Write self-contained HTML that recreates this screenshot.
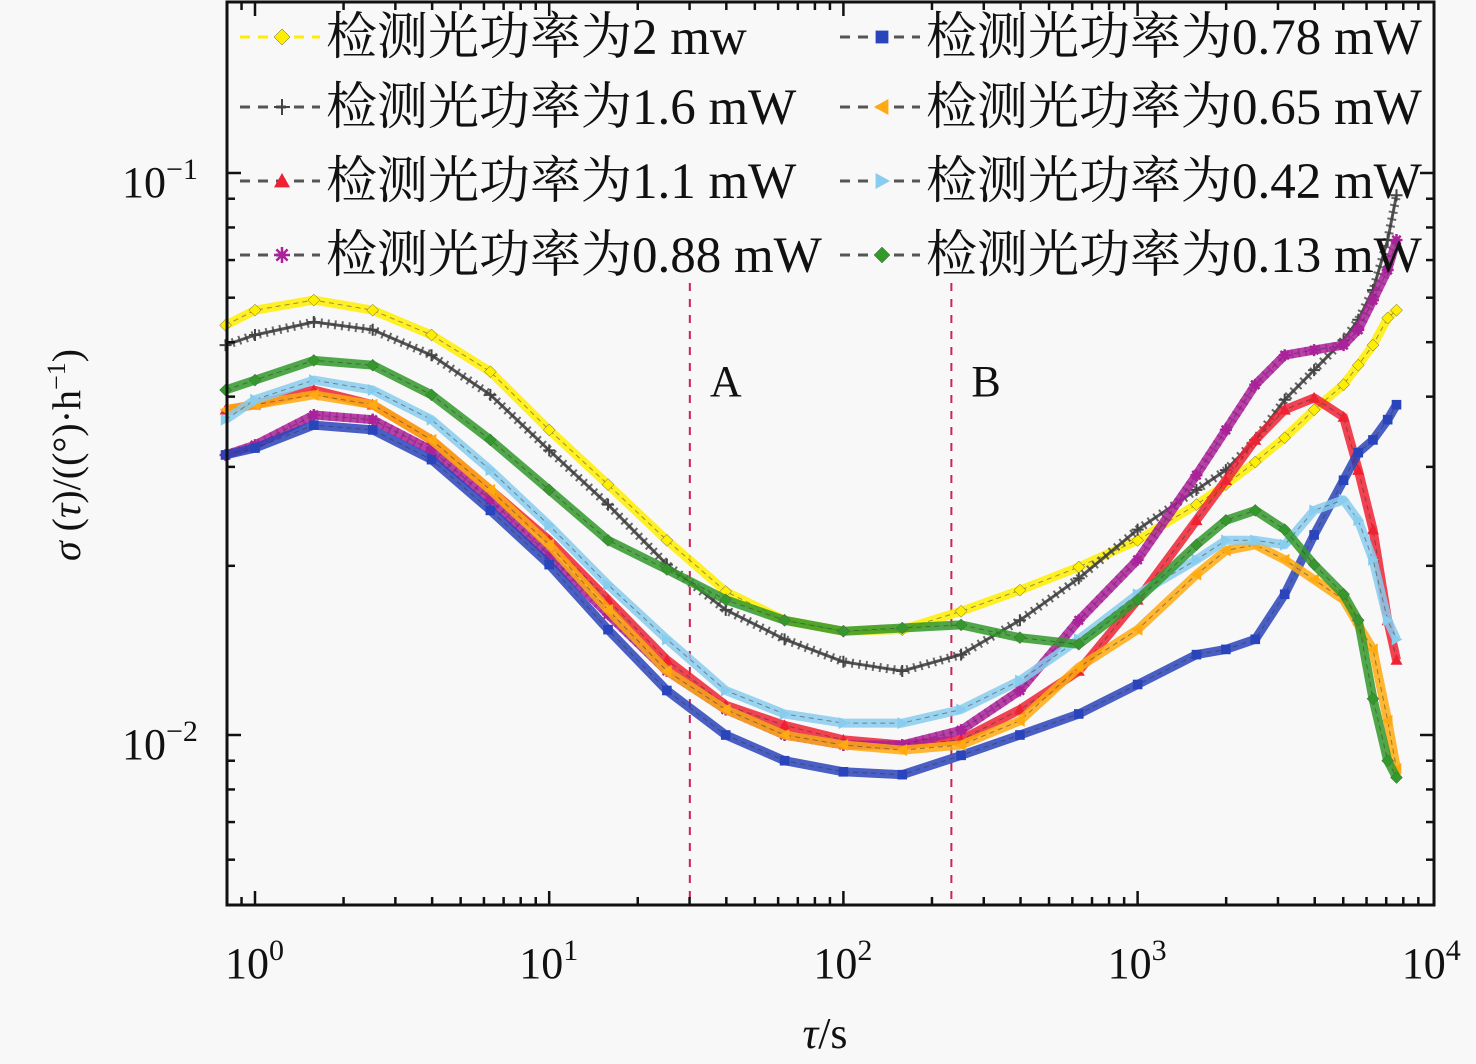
<!DOCTYPE html>
<html><head><meta charset="utf-8">
<style>
html,body{margin:0;padding:0;background:#f8f8f8;}
svg{display:block;}
text{font-family:"Liberation Serif","Noto Serif CJK SC",serif;fill:#111;}
</style></head>
<body>
<svg id="chart" width="1476" height="1064" viewBox="0 0 1476 1064" xmlns="http://www.w3.org/2000/svg">
<rect x="0" y="0" width="1476" height="1064" fill="#f8f8f8"/>
<g id="grid-lines"></g>
<g id="series-layer"></g>
<g id="axes-layer"></g>
<g id="legend-layer"></g>
</svg>
<script>
const tauLog = [-0.1,0.0,0.2,0.4,0.6,0.8,1.0,1.2,1.4,1.6,1.8,2.0,2.2,2.4,2.6,2.8,3.0,3.2,3.3,3.4,3.5,3.6,3.7,3.75,3.8,3.85,3.88];
const s2mW   = [.0536,.0570,.0594,.0570,.0515,.0443,.0349,.0279,.0222,.0180,.0160,.0153,.0154,.0166,.0181,.0199,.0222,.0257,.0279,.0306,.0338,.0379,.0420,.0455,.0494,.0552,.0570];
const s1_6mW = [.0494,.0515,.0543,.0526,.0474,.0403,.0321,.0257,.0201,.0167,.0148,.0135,.0130,.0139,.0160,.0190,.0232,.0273,.0296,.0335,.0395,.0446,.0504,.0548,.0619,.0760,.0913];
const s1_1mW = [.0379,.0387,.0411,.0387,.0335,.0273,.0222,.0174,.0136,.0113,.0104,.0098,.0096,.0098,.0111,.0130,.0174,.0241,.0284,.0335,.0379,.0398,.0368,.0296,.0232,.0160,.0136];
const s0_88mW= [.0315,.0328,.0371,.0364,.0321,.0262,.0209,.0164,.0130,.0111,.0100,.0096,.0096,.0102,.0120,.0160,.0205,.0290,.0349,.0420,.0474,.0484,.0494,.0526,.0594,.0672,.0760];
const s0_78mW= [.0315,.0324,.0356,.0349,.0309,.0251,.0201,.0154,.0120,.0100,.0090,.0086,.0085,.0092,.0100,.0109,.0123,.0139,.0142,.0148,.0178,.0227,.0284,.0318,.0335,.0364,.0387];
const s0_65mW= [.0379,.0387,.0403,.0387,.0335,.0273,.0218,.0167,.0130,.0111,.0100,.0096,.0094,.0096,.0106,.0132,.0154,.0193,.0213,.0218,.0205,.0189,.0174,.0157,.0142,.0106,.0087];
const s0_42mW= [.0364,.0395,.0428,.0411,.0364,.0296,.0236,.0185,.0148,.0120,.0109,.0105,.0105,.0111,.0125,.0148,.0178,.0205,.0222,.0222,.0218,.0251,.0262,.0241,.0205,.0160,.0148];
const s0_13mW= [.0411,.0428,.0464,.0455,.0403,.0335,.0273,.0222,.0197,.0174,.0160,.0153,.0155,.0157,.0149,.0145,.0174,.0218,.0241,.0251,.0232,.0201,.0178,.0160,.0116,.0090,.0084];
const legendLabels = ["检测光功率为2 mw","检测光功率为1.6 mW","检测光功率为1.1 mW","检测光功率为0.88 mW","检测光功率为0.78 mW","检测光功率为0.65 mW","检测光功率为0.42 mW","检测光功率为0.13 mW"];
const xTickExps = [0,1,2,3,4];
const yTickExps = [-1,-2];
const markerLines = [1.478,2.367];
const markerLabels = ["A","B"];

const NS="http://www.w3.org/2000/svg";
const X0=255, XD=294.2, Y0=735, YD=562;
const PL=227, PR=1434, PT=2, PB=905;
function xScale(lg){return X0+XD*lg;}
function yScale(v){return Y0-YD*Math.log10(v/0.01);}
function mk(tag,attrs,parent){const e=document.createElementNS(NS,tag);for(const k in attrs)e.setAttribute(k,attrs[k]);parent.appendChild(e);return e;}

const styles=[
 {name:"series-2mw",c:"#ffee00",m:"diamond",data:s2mW},
 {name:"series-1-6mw",c:"#444444",m:"plus",data:s1_6mW},
 {name:"series-1-1mw",c:"#ee2233",m:"tri",data:s1_1mW},
 {name:"series-0-88mw",c:"#aa2299",m:"star",data:s0_88mW},
 {name:"series-0-78mw",c:"#2a44bb",m:"square",data:s0_78mW},
 {name:"series-0-65mw",c:"#ffaa11",m:"ltri",data:s0_65mW},
 {name:"series-0-42mw",c:"#88ccee",m:"rtri",data:s0_42mW},
 {name:"series-0-13mw",c:"#33992a",m:"diamond",data:s0_13mW}
];
function marker(g,type,x,y,c,r){
  if(type==="square")return mk("rect",{x:x-r*0.8,y:y-r*0.8,width:r*1.6,height:r*1.6,fill:c},g);
  if(type==="diamond")return mk("polygon",{points:`${x},${y-r} ${x+r},${y} ${x},${y+r} ${x-r},${y}`,fill:c,stroke:"#555","stroke-width":0.5},g);
  if(type==="tri")return mk("polygon",{points:`${x},${y-r} ${x+r},${y+r*0.8} ${x-r},${y+r*0.8}`,fill:c},g);
  if(type==="ltri")return mk("polygon",{points:`${x-r},${y} ${x+r*0.8},${y-r} ${x+r*0.8},${y+r}`,fill:c},g);
  if(type==="rtri")return mk("polygon",{points:`${x+r},${y} ${x-r*0.8},${y-r} ${x-r*0.8},${y+r}`,fill:c},g);
  if(type==="plus")return mk("path",{d:`M${x-r},${y}H${x+r}M${x},${y-r}V${y+r}`,stroke:c,"stroke-width":2},g);
  if(type==="star")return mk("path",{d:`M${x-r},${y}H${x+r}M${x},${y-r}V${y+r}M${x-r*.7},${y-r*.7}L${x+r*.7},${y+r*.7}M${x-r*.7},${y+r*.7}L${x+r*.7},${y-r*.7}`,stroke:c,"stroke-width":2.5},g);
}
const sl=document.getElementById("series-layer");
styles.forEach(s=>{
  const g=mk("g",{},sl);
  
  
  const pts=s.data.map((v,i)=>xScale(tauLog[i]).toFixed(1)+","+yScale(v).toFixed(1)).join(" ");
  mk("polyline",{points:pts,fill:"none",stroke:s.c,"stroke-width":s.m==="plus"?3:9,"stroke-opacity":s.m==="plus"?0.9:0.85,"stroke-linejoin":"round"},g);
  if(s.m==="plus"||s.m==="star"){mk("polyline",{points:pts,fill:"none",stroke:s.c,"stroke-width":9,"stroke-dasharray":"2 5","stroke-opacity":0.8},g);}
  mk("polyline",{points:pts,fill:"none",stroke:"#333","stroke-width":1,"stroke-dasharray":"5 4","stroke-opacity":0.5},g);
  s.data.forEach((v,i)=>{
    const m=marker(g,s.m,xScale(tauLog[i]),yScale(v),s.c,6);
    
    
  });
});
const gl=document.getElementById("grid-lines");
markerLines.forEach((lg,i)=>{
  const x=xScale(lg);
  const l=mk("line",{x1:x,y1:283,x2:x,y2:PB,stroke:"#cc2255","stroke-width":2,"stroke-dasharray":"8 8"},gl);
  
  
  const t=mk("text",{x:x+20,y:396,"font-size":44},gl);
  t.textContent=markerLabels[i];
  
  
});
const al=document.getElementById("axes-layer");
const frame=mk("rect",{x:PL,y:PT,width:PR-PL,height:PB-PT,fill:"none",stroke:"#111","stroke-width":3},al);


for(let d=-1;d<4;d++){for(let k=1;k<10;k++){
  const x=xScale(d+Math.log10(k));
  if(x<PL+2||x>PR)continue;
  const len=k===1?14:8;
  mk("line",{x1:x,y1:PB,x2:x,y2:PB-len,stroke:"#111","stroke-width":2.5},al);
  mk("line",{x1:x,y1:PT,x2:x,y2:PT+len,stroke:"#111","stroke-width":2.5},al);
}}
for(let d=-3;d<0;d++){for(let k=1;k<10;k++){
  const y=yScale(Math.pow(10,d)*k);
  if(y<PT+2||y>PB-2)continue;
  const len=k===1?14:8;
  mk("line",{x1:PL,y1:y,x2:PL+len,y2:y,stroke:"#111","stroke-width":2.5},al);
  mk("line",{x1:PR,y1:y,x2:PR-len,y2:y,stroke:"#111","stroke-width":2.5},al);
}}
xTickExps.forEach(e=>{
  const t=mk("text",{x:xScale(e)-30,y:978,"font-size":44},al);
  t.innerHTML="10<tspan dy='-18' font-size='30'>"+e+"</tspan>";
  
  
});
yTickExps.forEach(e=>{
  const t=mk("text",{x:122,y:yScale(Math.pow(10,e))+24,"font-size":44},al);
  t.innerHTML="10<tspan dy='-18' font-size='30'>−"+(-e)+"</tspan>";
  
  
});
const xt=mk("text",{x:825,y:1048,"font-size":44,"text-anchor":"middle"},al);
xt.innerHTML="<tspan font-style='italic'>τ</tspan>/s";


const yt=mk("text",{x:0,y:0,"font-size":40,"text-anchor":"middle",transform:"translate(80,455) rotate(-90)"},al);
yt.innerHTML="<tspan font-style='italic'>σ</tspan> (<tspan font-style='italic'>τ</tspan>)/((°)·h<tspan dy='-15' font-size='26'>−1</tspan><tspan dy='15'>)</tspan>";


const lg=document.getElementById("legend-layer");
const rowsY=[37,107,181,255];
styles.forEach((s,i)=>{
  const col=i<4?0:1, row=i%4;
  const lx=col===0?240:840, y=rowsY[row];
  const g=mk("g",{},lg);
  
  
  mk("line",{x1:lx,y1:y,x2:lx+80,y2:y,stroke:i===0?s.c:"#555","stroke-width":3,"stroke-dasharray":"10 8"},g);
  marker(g,s.m,lx+42,y,s.c,8);
  const t=mk("text",{x:lx+86,y:y+17,"font-size":51},g);
  t.textContent=legendLabels[i];
});
</script>
</body></html>
